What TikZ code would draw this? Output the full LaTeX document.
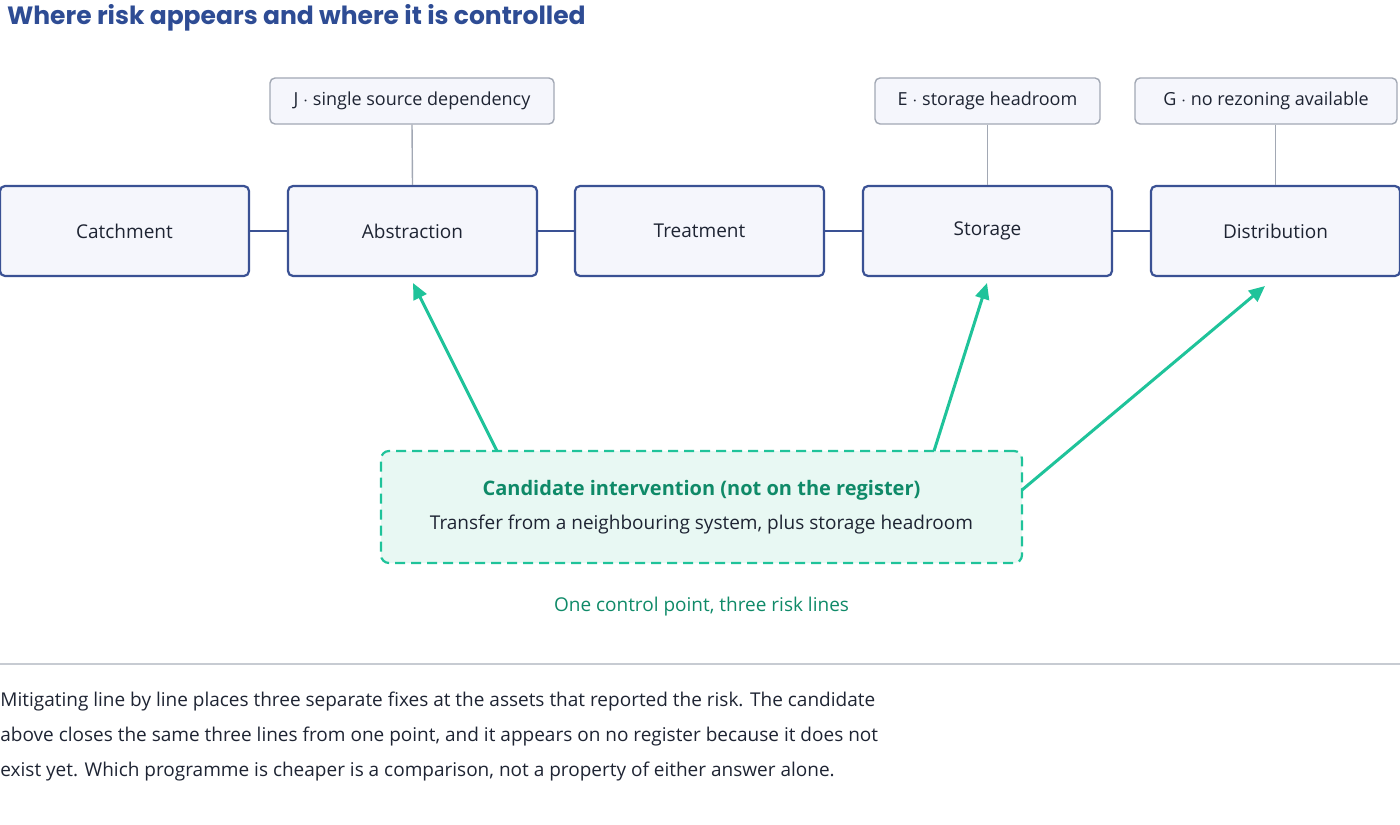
\documentclass[tikz,border=0pt]{standalone}
\usepackage{fontspec}
\setmainfont{Open Sans}
\newfontfamily\titlefont{Poppins}
\usetikzlibrary{positioning,arrows.meta}
\definecolor{navy}{HTML}{2E4C94}
\definecolor{stageline}{HTML}{3A5194}
\definecolor{stagefill}{HTML}{F5F6FC}
\definecolor{riskline}{HTML}{A2A8B4}
\definecolor{mint}{HTML}{1FC39A}
\definecolor{mintfill}{HTML}{E8F8F3}
\definecolor{deepmint}{HTML}{0F8A68}
\definecolor{ink}{HTML}{1E2433}
\begin{document}
\begin{tikzpicture}[x=0.5pt,y=-0.5pt,
    stage/.style={draw=stageline, line width=1.1pt, fill=stagefill, rounded corners=2.5pt,
        minimum width=124.5pt, minimum height=45pt, font=\fontsize{9.5}{11}\selectfont, text=ink},
    risk/.style={draw=riskline, line width=0.7pt, fill=stagefill, rounded corners=2.5pt,
        minimum height=23pt, inner xsep=6pt, font=\fontsize{9}{11}\selectfont, text=ink},
    link/.style={stageline, line width=1.1pt},
    tie/.style={riskline, line width=0.7pt},
    reach/.style={mint, line width=1.5pt, -{Triangle[length=8pt,width=7pt]}}]
    \useasboundingbox (0,0) rectangle (1400,824);

    \node[anchor=west, font=\titlefont\bfseries\fontsize{12.5}{14}\selectfont, text=navy] (title) at (0,18) {Where risk appears and where it is controlled};

    % stages
    \node[stage] (catch) at (124.5,231) {Catchment};
    \node[stage] (abst)  at (412.5,231) {Abstraction};
    \node[stage] (treat) at (699.5,231) {Treatment};
    \node[stage] (store) at (987.5,231) {Storage};
    \node[stage] (dist)  at (1275.5,231) {Distribution};
    \foreach \a/\b in {catch/abst, abst/treat, treat/store, store/dist}
        \draw[link] (\a) -- (\b);

    % risks
    \node[risk, minimum width=142pt] (rJ) at (412,101) {J $\cdot$ single source dependency};
    \node[risk, minimum width=112.5pt] (rE) at (987.5,101) {E $\cdot$ storage headroom};
    \node[risk, minimum width=131pt] (rG) at (1266,101) {G $\cdot$ no rezoning available};
    \draw[tie] (rJ.south) -- (abst.north);
    \draw[tie] (rE.south) -- (store.north);
    \draw[tie] (rG.south -| dist.north) -- (dist.north);

    % candidate
    \node[draw=mint, dashed, dash pattern=on 5pt off 3pt, line width=1.1pt, fill=mintfill, rounded corners=4pt,
        minimum width=320.5pt, minimum height=56pt] (cand) at (701.5,507) {};
    \node[font=\bfseries\fontsize{10}{12}\selectfont, text=deepmint] (candtitle) at (701.5,490) {Candidate intervention (not on the register)};
    \node[font=\fontsize{9.5}{11}\selectfont, text=ink] (candsub) at (701.5,525) {Transfer from a neighbouring system, plus storage headroom};
    \coordinate (ca) at (497,451);
    \coordinate (cs) at (934,451);
    \coordinate (cd) at (1022,490);
    \coordinate (ta) at (413,283);
    \coordinate (ts) at (987,283);
    \coordinate (td) at (1265,286);
    \draw[reach] (ca) -- (ta);
    \draw[reach] (cs) -- (ts);
    \draw[reach] (cd) -- (td);

    \node[font=\fontsize{9.5}{11}\selectfont, text=deepmint] (caption) at (701.5,607) {One control point, three risk lines};
    \coordinate (rl) at (0,664);
    \coordinate (rr) at (1400,664);
    \draw[riskline!60, line width=0.8pt] (rl) -- (rr);

    \node[anchor=north west, inner sep=0pt, align=left, text=ink, font=\fontsize{9.5}{17.5}\selectfont] (note) at (0,692)
        {Mitigating line by line places three separate fixes at the assets that reported the risk. The candidate\\
         above closes the same three lines from one point, and it appears on no register because it does not\\
         exist yet. Which programme is cheaper is a comparison, not a property of either answer alone.};
\end{tikzpicture}
\end{document}
